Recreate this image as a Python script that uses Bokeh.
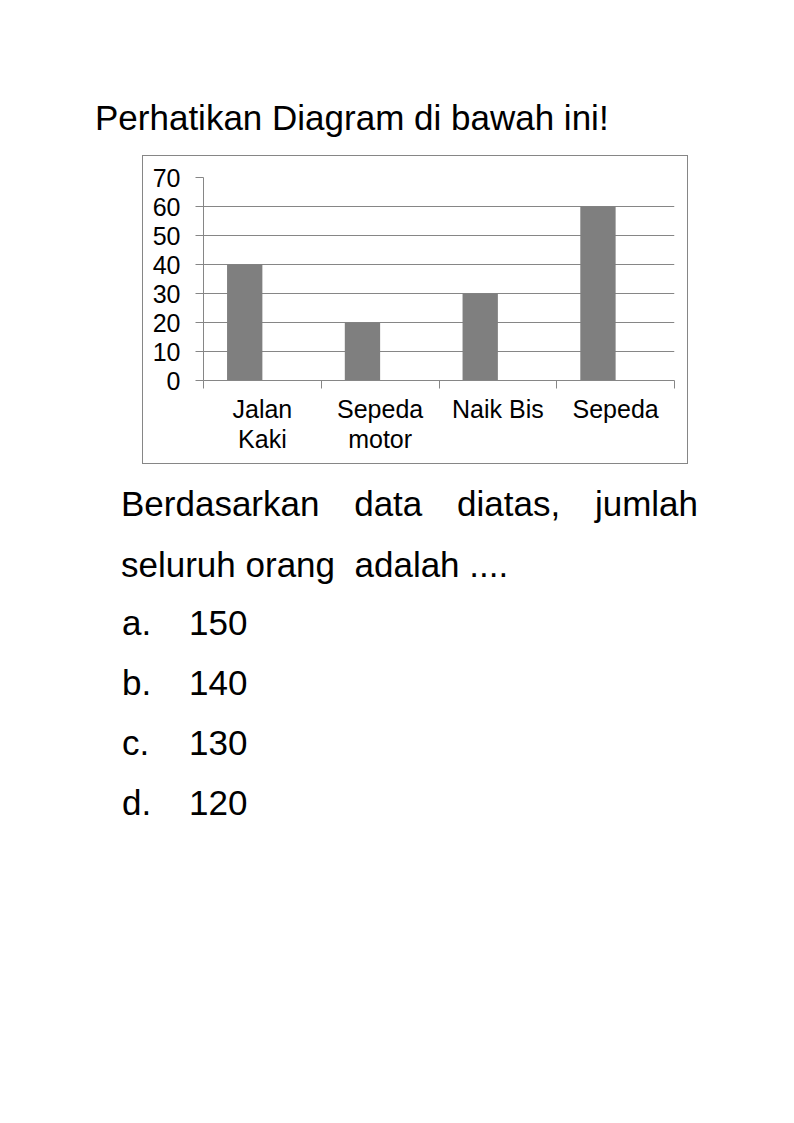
from bokeh.plotting import figure
from bokeh.models import (Range1d, LinearAxis, FixedTicker, Div, ColumnDataSource,
                          CustomJSTickFormatter)
from bokeh.layouts import column
from bokeh.transform import dodge
from bokeh.embed import file_html
from bokeh.resources import INLINE

# ---- data ----
categories = ["Jalan Kaki", "Sepeda motor", "Naik Bis", "Sepeda"]
category_labels = ["Jalan\nKaki", "Sepeda\nmotor", "Naik Bis", "Sepeda"]
values = [40, 20, 30, 60]
y_ticks = [0, 10, 20, 30, 40, 50, 60, 70]

title_text = "Perhatikan Diagram di bawah ini!"
question_text = "Berdasarkan data diatas, jumlah seluruh orang&nbsp; adalah ...."
option_letters = ["a.", "b.", "c.", "d."]
option_values = ["150", "140", "130", "120"]

FONT = "Liberation Sans"
GRID = "#868686"
BAR = "#7f7f7f"

n = len(categories)
slot_centers = [i + 0.5 for i in range(n)]
slot_edges = list(range(n + 1))

# ---- chart ----
p = figure(width=546, height=309,
           x_range=Range1d(0, n),
           y_range=Range1d(0, 70),
           output_backend="svg", toolbar_location=None,
           x_axis_location=None,
           min_border_left=60, min_border_right=15,
           min_border_top=21, min_border_bottom=85,
           background_fill_color="white", border_fill_color="white")
p.outline_line_color = None
p.styles = {"border": "1px solid #868686"}
p.margin = (0, 0, 0, 142)
p.xgrid.visible = False

src = ColumnDataSource(dict(x=slot_centers, cat=categories, val=values))
p.vbar(x=dodge("x", -0.15), top="val", width=0.3,
       source=src, fill_color=BAR, line_color=None)

x_axis = LinearAxis(ticker=FixedTicker(ticks=slot_centers, minor_ticks=slot_edges),
                    formatter=CustomJSTickFormatter(args=dict(labels=category_labels),
                                                    code="return labels[Math.floor(tick)];"),
                    major_tick_out=0, major_tick_in=0,
                    minor_tick_out=8, minor_tick_in=0,
                    axis_line_color=GRID, major_tick_line_color=None,
                    minor_tick_line_color=GRID,
                    major_label_standoff=6,
                    major_label_text_font_size="25px",
                    major_label_text_line_height=1.1,
                    major_label_text_font=FONT,
                    major_label_text_color="black")
p.add_layout(x_axis, "below")

ya = p.yaxis[0]
ya.ticker = FixedTicker(ticks=y_ticks, minor_ticks=[])
ya.major_tick_out = 8
ya.major_tick_in = 0
ya.minor_tick_out = 0
ya.minor_tick_in = 0
ya.axis_line_color = GRID
ya.major_tick_line_color = GRID
ya.major_label_standoff = 15
ya.major_label_text_font_size = "25px"
ya.major_label_text_font = FONT
ya.major_label_text_color = "black"

p.ygrid[0].ticker = FixedTicker(ticks=y_ticks, minor_ticks=[])
p.ygrid[0].grid_line_color = GRID
p.ygrid[0].grid_line_width = 1

# ---- texts ----
title_html = (
    f'<div style="position:relative;width:794px;height:155px;font-family:\'{FONT}\';color:#000;">'
    f'<div style="position:absolute;left:95px;top:100px;font-size:35px;line-height:35px;white-space:nowrap;">'
    f'{title_text}</div></div>'
)
title_div = Div(text=title_html, width=794, height=155, margin=(0, 0, 0, 0))

opts = ""
for i, (l, v) in enumerate(zip(option_letters, option_values)):
    top = 141 + 60 * i
    opts += (f'<div style="position:absolute;left:122px;top:{top}px;font-size:35px;line-height:35px;white-space:nowrap;">{l}</div>'
             f'<div style="position:absolute;left:189px;top:{top}px;font-size:35px;line-height:35px;white-space:nowrap;">{v}</div>')

body_html = (
    f'<div style="position:relative;width:794px;height:650px;font-family:\'{FONT}\';color:#000;">'
    f'<div style="position:absolute;left:121px;top:9px;width:577px;font-size:35px;line-height:61px;text-align:justify;">'
    f'{question_text}</div>{opts}</div>'
)
body_div = Div(text=body_html, width=794, height=650, margin=(0, 0, 0, 0))

layout = column(title_div, p, body_div, spacing=0)

open("out.html", "w").write(file_html(layout, INLINE))
